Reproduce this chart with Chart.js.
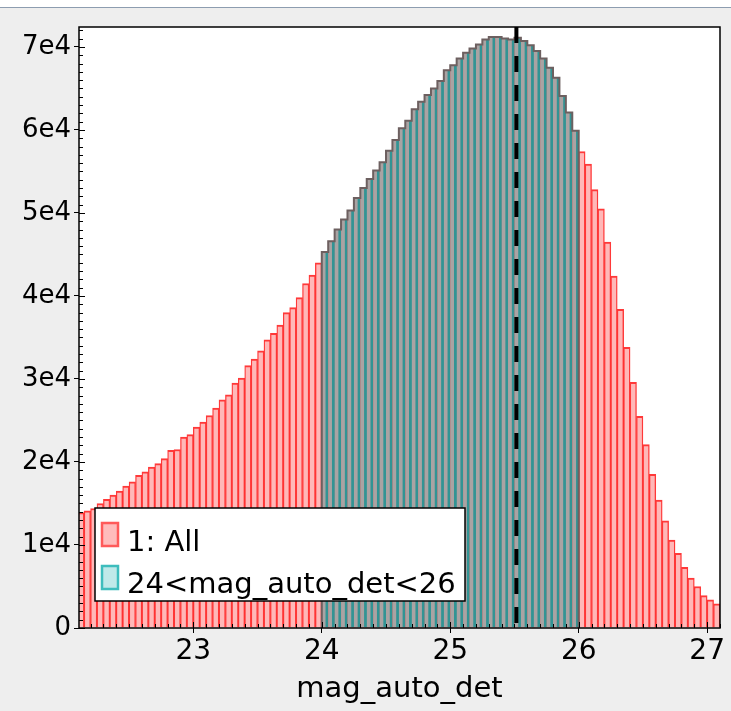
<!DOCTYPE html>
<html><head><meta charset="utf-8">
<script src="https://cdn.jsdelivr.net/npm/chart.js@4/dist/chart.umd.min.js"></script>
<style>
html,body{margin:0;padding:0;background:#eeeeee;overflow:hidden;}
#wrap{position:relative;width:731px;height:711px;}
#topline{position:absolute;left:0;top:0;width:731px;height:7px;background:#ffffff;border-bottom:1px solid #8d9db0;z-index:2;}
canvas{position:absolute;left:0;top:0;}
</style></head><body>
<div id="wrap"><div id="topline"></div><canvas id="c" width="731" height="711"></canvas></div>
<script>
// ---- data ----
const binEdges = [
 22.10,22.15,22.20,22.25,22.30,22.35,22.40,22.45,22.50,22.55,22.60,22.65,22.70,22.75,22.80,22.85,22.90,22.95,
 23.00,23.05,23.10,23.15,23.20,23.25,23.30,23.35,23.40,23.45,23.50,23.55,23.60,23.65,23.70,23.75,23.80,23.85,23.90,23.95,
 24.00,24.05,24.10,24.15,24.20,24.25,24.30,24.35,24.40,24.45,24.50,24.55,24.60,24.65,24.70,24.75,24.80,24.85,24.90,24.95,
 25.00,25.05,25.10,25.15,25.20,25.25,25.30,25.35,25.40,25.45,25.50,25.55,25.60,25.65,25.70,25.75,25.80,25.85,25.90,25.95,
 26.00,26.05,26.10,26.15,26.20,26.25,26.30,26.35,26.40,26.45,26.50,26.55,26.60,26.65,26.70,26.75,26.80,26.85,26.90,26.95,
 27.00,27.05
];
const allCounts = [
 13900,14100,14400,15000,15500,16000,16500,17100,17600,18400,
 18800,19400,19800,20400,21400,21500,23000,23300,24200,24800,
 25600,26500,27500,28100,29500,30100,31600,32400,33400,34700,
 35500,36500,38000,38600,39800,41500,42500,44000,45300,46600,
 48000,49200,50300,51800,53000,54100,55100,56100,57500,58800,
 60200,61100,62500,63400,64200,65000,65900,67200,67800,68600,
 69300,69800,70300,70900,71200,71200,71000,70900,71100,70700,
 70200,69500,68600,67500,66300,64100,62100,59900,57400,55900,
 52800,50500,46500,42400,38400,33800,29600,25500,22100,18500,
 15400,12900,10600,9000,7300,6000,5000,3900,3400,2900
];
const selEdges = [
 24.00,24.05,24.10,24.15,24.20,24.25,24.30,24.35,24.40,24.45,24.50,24.55,24.60,24.65,24.70,24.75,24.80,24.85,24.90,24.95,
 25.00,25.05,25.10,25.15,25.20,25.25,25.30,25.35,25.40,25.45,25.50,25.55,25.60,25.65,25.70,25.75,25.80,25.85,25.90,25.95
];
const selCounts = [
 45300,46600,48000,49200,50300,51800,53000,54100,55100,56100,
 57500,58800,60200,61100,62500,63400,64200,65000,65900,67200,
 67800,68600,69300,69800,70300,70900,71200,71200,71000,70900,
 71100,70700,70200,69500,68600,67500,66300,64100,62100,59900
];
const binWidth = 0.05;
const markValue = 25.515;
const xTickValues = [23,24,25,26,27];
const xTickLabels = ['23','24','25','26','27'];
const yTickValues = [0,10000,20000,30000,40000,50000,60000,70000];
const yTickLabels = ['0','1e4','2e4','3e4','4e4','5e4','6e4','7e4'];
const seriesNames = ['1: All','24<mag_auto_det<26'];
const xTitle = 'mag_auto_det';

// ---- build ----
const FONT = 'DejaVu Sans';
const allData = binEdges.map((e,i)=>({x:e+binWidth/2, y:allCounts[i]}));
const selData = selEdges.map((e,i)=>({x:e+binWidth/2, y:selCounts[i]}));
const last = selEdges.length-1;
const selOutline = [{x:selEdges[0], y:0}]
  .concat(selEdges.map((e,i)=>({x:e, y:selCounts[i]})))
  .concat([{x:selEdges[last]+binWidth, y:selCounts[last]},{x:selEdges[last]+binWidth, y:0}]);

const bgPlugin = {
  id:'bgPlugin',
  beforeDraw(chart){
    const {ctx, chartArea:a} = chart;
    ctx.save(); ctx.fillStyle='#ffffff'; ctx.fillRect(a.left,a.top,a.right-a.left,a.bottom-a.top); ctx.restore();
  }
};
const markPlugin = {
  id:'markPlugin',
  afterDatasetsDraw(chart){
    const {ctx, chartArea:a, scales:{x}} = chart;
    const px = x.getPixelForValue(markValue);
    ctx.save();
    ctx.beginPath(); ctx.rect(a.left,a.top,a.right-a.left,a.bottom-a.top); ctx.clip();
    ctx.strokeStyle='#000'; ctx.lineWidth=4; ctx.setLineDash([16,13]); ctx.lineDashOffset=0;
    ctx.beginPath(); ctx.moveTo(px,a.top); ctx.lineTo(px,a.bottom); ctx.stroke();
    ctx.restore();
  }
};
const framePlugin = {
  id:'framePlugin',
  afterDraw(chart){
    const {ctx, chartArea:a, scales:{x,y}} = chart;
    ctx.save();
    ctx.strokeStyle='#000'; ctx.lineWidth=1;
    ctx.beginPath();
    for (let v=0; v<=y.max; v+=1000){
      const py = Math.round(y.getPixelForValue(v))+0.5;
      const len = (v%10000===0)?6:4;
      ctx.moveTo(a.left, py); ctx.lineTo(a.left+len, py);
    }
    for (let k=Math.ceil(x.min*10); k<=Math.floor(x.max*10); k++){
      const v = k/10;
      const px = Math.round(x.getPixelForValue(v))+0.5;
      const len = (k%10===0)?6:4;
      ctx.moveTo(px, a.bottom); ctx.lineTo(px, a.bottom-len);
    }
    ctx.stroke();
    ctx.lineWidth=1.5;
    ctx.strokeRect(a.left, a.top, a.right-a.left, a.bottom-a.top);
    // legend
    const bx=a.left+16, by=a.bottom-120, bw=370, bh=93;
    ctx.fillStyle='#ffffff'; ctx.fillRect(bx,by,bw,bh);
    ctx.strokeStyle='#000'; ctx.lineWidth=1.5; ctx.strokeRect(bx,by,bw,bh);
    ctx.lineWidth=2.5;
    ctx.fillStyle='#ffbcbc'; ctx.fillRect(bx+7,by+15,16,23);
    ctx.strokeStyle='#ff5a5a'; ctx.strokeRect(bx+7,by+15,16,23);
    ctx.fillStyle='#bfe9e9'; ctx.fillRect(bx+7,by+58,16,23);
    ctx.strokeStyle='#3dbdbd'; ctx.strokeRect(bx+7,by+58,16,23);
    ctx.fillStyle='#000'; ctx.font='29px "'+FONT+'"'; ctx.textAlign='left'; ctx.textBaseline='alphabetic';
    ctx.fillText(seriesNames[0], bx+32, by+43);
    ctx.fillText(seriesNames[1], bx+32, by+85);
    ctx.restore();
  }
};

new Chart(document.getElementById('c'), {
  type:'bar',
  data:{ datasets:[
    { type:'line', label:'outline', data:selOutline, stepped:'before', borderColor:'#6d6060', borderWidth:2,
      pointRadius:0, fill:false, order:0, clip:0 },
    { label:seriesNames[1], data:selData, backgroundColor:'#aaa3a3', borderColor:'#329494',
      borderWidth:{left:0,right:3,top:0,bottom:0}, grouped:false, barPercentage:1, categoryPercentage:1, order:1, clip:0 },
    { label:seriesNames[0], data:allData, backgroundColor:'#ffb8b8', borderColor:'rgba(255,35,35,0.9)',
      borderWidth:{left:1.3,right:1.4,top:2,bottom:0}, grouped:false, barPercentage:1, categoryPercentage:1, order:2, clip:0 }
  ]},
  options:{
    responsive:false, animation:false, devicePixelRatio:1,
    layout:{padding:{top:27,right:11,left:0,bottom:0}},
    plugins:{legend:{display:false}, tooltip:{enabled:false}},
    scales:{
      x:{ type:'linear', min:22.11, max:27.10, offset:false,
          grid:{display:true, drawOnChartArea:false, drawTicks:true, tickLength:5, color:'#000', offset:false},
          border:{display:false},
          afterBuildTicks(s){ s.ticks = xTickValues.map(v=>({value:v})); },
          afterFit(s){ s.height = 83; },
          ticks:{ autoSkip:false, maxRotation:0, padding:2, color:'#000', font:{family:FONT,size:28},
                  callback:(v)=>{ const i=xTickValues.indexOf(v); return i>=0?xTickLabels[i]:''; } },
          title:{display:true, text:xTitle, color:'#000', font:{family:FONT,size:29}, padding:{top:0,bottom:4}} },
      y:{ type:'linear', min:0, max:72400,
          grid:{display:true, drawOnChartArea:false, drawTicks:true, tickLength:5, color:'#000'},
          border:{display:false},
          afterBuildTicks(s){ s.ticks = yTickValues.map(v=>({value:v})); },
          afterFit(s){ s.width = 79; },
          ticks:{ autoSkip:false, padding:3, color:'#000', font:{family:FONT,size:26},
                  callback:(v)=>{ const i=yTickValues.indexOf(v); return i>=0?yTickLabels[i]:''; } } }
    }
  },
  plugins:[bgPlugin, markPlugin, framePlugin]
});
</script>
</body></html>
